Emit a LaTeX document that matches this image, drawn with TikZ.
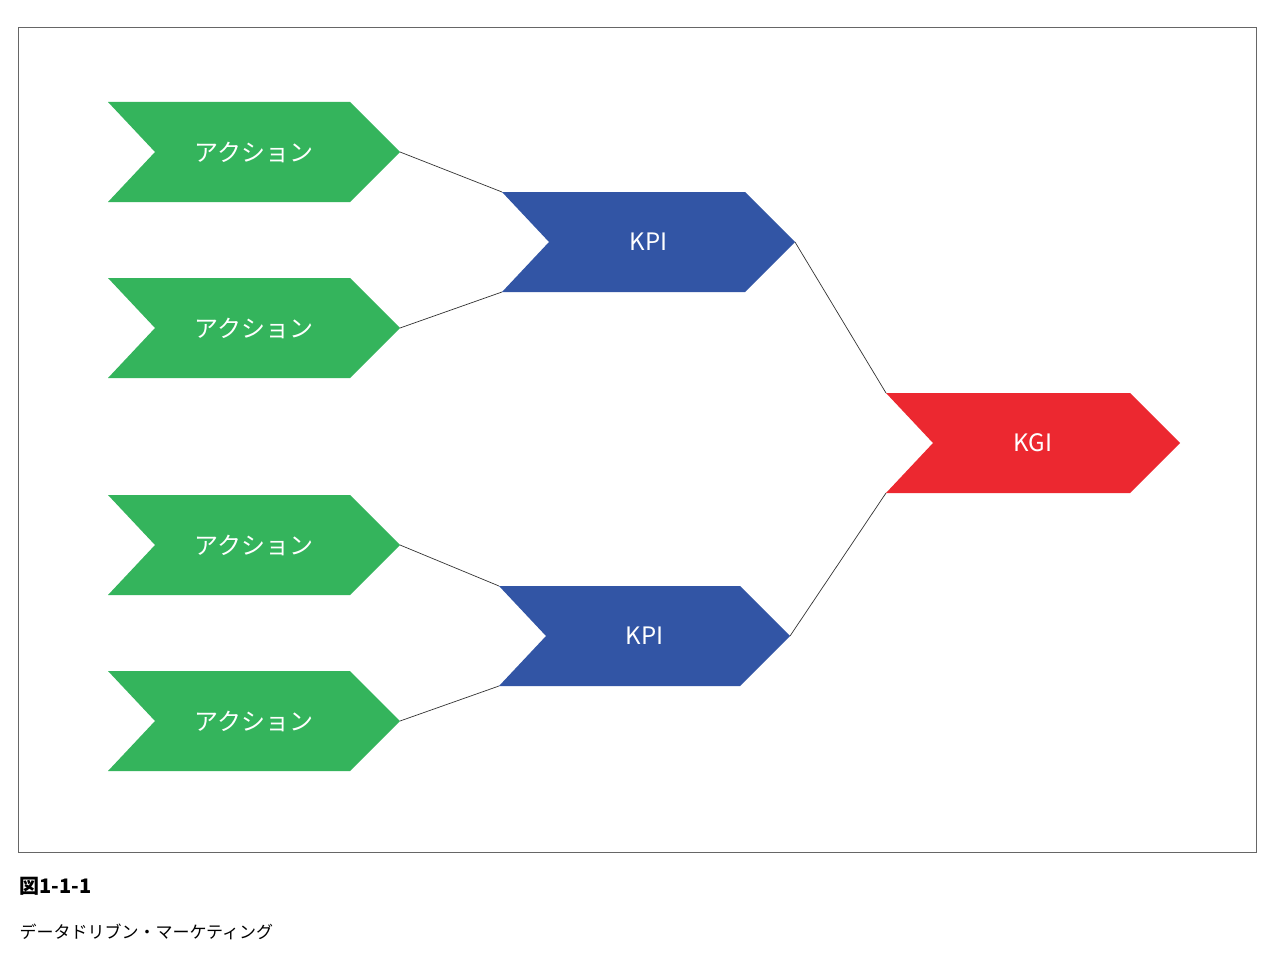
\documentclass[tikz,border=0pt]{standalone}
\usepackage{fontspec}
\setmainfont{Noto Sans CJK JP}
\definecolor{actgreen}{RGB}{52,180,92}
\definecolor{kpiblue}{RGB}{50,85,165}
\definecolor{kgired}{RGB}{236,40,48}
\tikzset{
  label text/.style={text=white, font=\fontsize{24}{28}\selectfont},
  link/.style={draw=black!80, line width=0.7pt}
}
% name, left x, middle y, width, colour, text
\newcommand{\chev}[6]{%
  \fill[#5] (#2,#3-50) -- ++(#4-50,0) -- ++(50,50) -- ++(-50,50)
    -- (#2,#3+50) -- ++(47,-50) -- cycle;
  \coordinate (#1-nw) at (#2,#3-50);
  \coordinate (#1-sw) at (#2,#3+50);
  \coordinate (#1-tip) at (#2+#4,#3);
  \node[label text] (#1) at (#2+#4/2,#3) {#6};
}
\begin{document}
\begin{tikzpicture}[x=1pt,y=-1pt]
    \useasboundingbox[fill=white] (0,0) rectangle (1280,971);
    % 枠
    \draw[black!60, line width=0.8pt] (18,27) rectangle (1256,852);

    \chev{act1}{108}{152}{292}{actgreen}{アクション}
    \chev{act2}{108}{328}{292}{actgreen}{アクション}
    \chev{act3}{108}{545}{292}{actgreen}{アクション}
    \chev{act4}{108}{721}{292}{actgreen}{アクション}
    \chev{kpi1}{502}{242}{293}{kpiblue}{KPI}
    \chev{kpi2}{499}{636}{291}{kpiblue}{KPI}
    \chev{kgi}{886}{443}{294}{kgired}{KGI}

    \draw[link] (act1-tip) -- (kpi1-nw);
    \draw[link] (act2-tip) -- (kpi1-sw);
    \draw[link] (act3-tip) -- (kpi2-nw);
    \draw[link] (act4-tip) -- (kpi2-sw);
    \draw[link] (kpi1-tip) -- (kgi-nw);
    \draw[link] (kpi2-tip) -- (kgi-sw);

    % キャプション
    \node[anchor=west, font=\fontsize{20}{24}\selectfont\bfseries] (fig) at (16,886) {図1-1-1};
    \node[anchor=west, font=\fontsize{17}{20}\selectfont] (cap) at (16,932) {データドリブン・マーケティング};
\end{tikzpicture}
\end{document}
